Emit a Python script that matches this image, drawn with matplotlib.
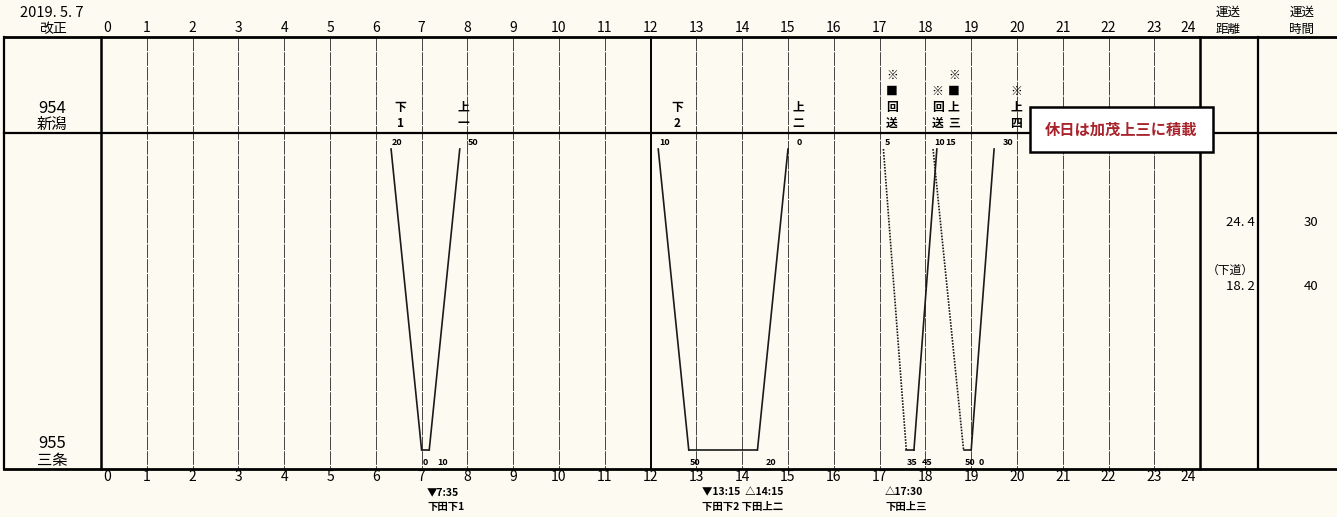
import matplotlib
matplotlib.use("Agg")
import matplotlib.pyplot as plt
from matplotlib.patches import Rectangle

JP = ["Noto Sans CJK JP", "DejaVu Sans"]
NUM = ["Liberation Sans Narrow", "Noto Sans CJK JP", "DejaVu Sans"]
plt.rcParams["font.family"] = JP

# --- values ---
revision = "2019. 5. 7"
hours = list(range(25))

station_codes = ["954", "955"]
station_names = ["新潟", "三条"]
station_km = [0.0, 24.4]

# 新潟 -> 三条
down_names = ["下1", "下2", "回送", "回送"]
down_marks = ["", "", "※■", "※"]
down_dep = ["6:20", "12:10", "17:05", "18:10"]
down_arr = ["7:00", "12:50", "17:35", "18:50"]

# 三条 -> 新潟
up_names = ["上一", "上二", "上三", "上四"]
up_marks = ["", "", "※■", "※"]
up_dep = ["7:10", "14:20", "17:45", "19:00"]
up_arr = ["7:50", "15:00", "18:15", "19:30"]

dist_notes = ["", "（下道）"]
distances = ["24. 4", "18. 2"]
run_minutes = ["30", "40"]

note_hours = [7, 13, 17]
note_times = ["▼7:35", "▼13:15  △14:15", "△17:30"]
note_trains = ["下田下1", "下田下2 下田上二", "下田上三"]

holiday_note = "休日は加茂上三に積載"

# --- layout (pixel rows/cols of the sheet) ---
W, H = 1337, 517
X0, PXH = 101, 45.8
STATION_PX = [133, 450]
KM_PX = (STATION_PX[1] - STATION_PX[0]) / (station_km[1] - station_km[0])
down_label_dx = [0.2, 0.41, 0.19, 0.1]
up_label_dx = [0.07, 0.22, 0.37, 0.48]


def hx(px):
    return (px - X0) / PXH


def ky(py):
    return (py - STATION_PX[0]) / KM_PX + station_km[0]


def hrs(s):
    h, m = s.split(":")
    return int(h) + int(m) / 60


def mins(s):
    return str(int(s.split(":")[1]))


fig = plt.figure(figsize=(W / 100, H / 100), dpi=100)
fig.patch.set_facecolor("#fcfaf1")
ax = fig.add_axes([0, 0, 1, 1])
ax.set_facecolor("#fcfaf1")
ax.axis("off")
ax.set_xlim(hx(0), hx(W))
ax.set_ylim(ky(H), ky(0))

y_top, y_bot = ky(37), ky(469)

# hour grid
for h in hours:
    if h in (0, 24):
        ax.plot([h, h], [y_top, y_bot], color="black", lw=1.8, zorder=2)
    elif h == 12:
        ax.plot([h, h], [y_top, y_bot], color="black", lw=1.4, zorder=2)
    else:
        ax.plot([h, h], [y_top, y_bot], color="#444444", lw=0.7,
                ls=(0, (14, 1.2)), zorder=1)
    for yy in (ky(28), ky(477)):
        if h == 0:
            ax.text(h + 0.05, yy, str(h), ha="left", va="center", fontsize=10, family=NUM)
        elif h == 24:
            ax.text(h - 0.1, yy, str(h), ha="right", va="center", fontsize=10, family=NUM)
        else:
            ax.text(h, yy, str(h), ha="center", va="center", fontsize=10, family=NUM)

# frame
for yy, lw in ((y_top, 2.0), (station_km[0], 1.6), (y_bot, 2.0)):
    ax.plot([hx(4), hx(W)], [yy, yy], color="black", lw=lw, zorder=2)
for xx in (hx(4), hx(1258)):
    ax.plot([xx, xx], [y_top, y_bot], color="black", lw=1.6, zorder=2)

# header / stations
ax.text(hx(52), ky(13), revision, ha="center", va="center", fontsize=10.5, family=NUM)
ax.text(hx(53), ky(29), "改正", ha="center", va="center", fontsize=10)
ax.text(hx(52), ky(108), station_codes[0], ha="center", va="center", fontsize=12, family=NUM)
ax.text(hx(52), ky(124), station_names[0], ha="center", va="center", fontsize=11)
ax.text(hx(52), ky(443), station_codes[1], ha="center", va="center", fontsize=12, family=NUM)
ax.text(hx(52), ky(460), station_names[1], ha="center", va="center", fontsize=11)
ax.text(hx(1228), ky(12), "運送", ha="center", va="center", fontsize=9)
ax.text(hx(1228), ky(29), "距離", ha="center", va="center", fontsize=9)
ax.text(hx(1302), ky(12), "運送", ha="center", va="center", fontsize=9)
ax.text(hx(1302), ky(29), "時間", ha="center", va="center", fontsize=9)

for i, (note, d, m) in enumerate(zip(dist_notes, distances, run_minutes)):
    yy = ky(222 + 64 * i)
    ax.text(hx(1255), yy, d, ha="right", va="center", fontsize=9.5, family=NUM)
    ax.text(hx(1311), yy, m, ha="center", va="center", fontsize=9.5, family=NUM)
    if note:
        ax.text(hx(1230), yy - ky(149), note, ha="center", va="center", fontsize=8.5)

line_start = ky(149)
sanjo = station_km[1]
dot = (0, (1, 0.8))
ink = "#1a1a1a"


def stack(x, chars):
    for j, ch in enumerate(reversed(chars)):
        ax.text(x, ky(123 - 16 * j), ch, ha="center", va="center",
                fontsize=8.5, fontweight="bold", zorder=4)


# runs
for i, name in enumerate(down_names):
    t0, t1 = hrs(down_dep[i]), hrs(down_arr[i])
    ls = dot if name == "回送" else "-"
    ax.plot([t0, t1], [line_start, sanjo], color=ink, lw=1.2, ls=ls, zorder=3)
    stack(t0 + down_label_dx[i], list(down_marks[i]) + list(name))
    ax.text(t0 + 0.02, ky(142), mins(down_dep[i]), ha="left", va="center",
            fontsize=6.5, fontweight="bold", family=NUM)
    ax.text(t1 + 0.02, ky(462), mins(down_arr[i]), ha="left", va="center",
            fontsize=6.5, fontweight="bold", family=NUM)

for i, name in enumerate(up_names):
    t0, t1 = hrs(up_dep[i]), hrs(up_arr[i])
    ax.plot([t0, t1], [sanjo, line_start], color=ink, lw=1.2, zorder=3)
    # layover at 三条
    ax.plot([hrs(down_arr[i]), t0], [sanjo, sanjo], color=ink, lw=1.2, zorder=3)
    stack(t1 + up_label_dx[i], list(up_marks[i]) + list(name))
    ax.text(t1 + 0.18, ky(142), mins(up_arr[i]), ha="left", va="center",
            fontsize=6.5, fontweight="bold", family=NUM)
    ax.text(t0 + 0.17, ky(462), mins(up_dep[i]), ha="left", va="center",
            fontsize=6.5, fontweight="bold", family=NUM)

# notes below the axis
for h, t, tr in zip(note_hours, note_times, note_trains):
    ax.text(h + 0.12, ky(492), t, ha="left", va="center", fontsize=7.5, fontweight="bold")
    ax.text(h + 0.12, ky(507), tr, ha="left", va="center", fontsize=7.5, fontweight="bold")

# holiday box
bx0, bx1, by0, by1 = hx(1030), hx(1213), ky(107), ky(152)
ax.add_patch(Rectangle((bx0, by0), bx1 - bx0, by1 - by0, facecolor="white",
                       edgecolor="black", lw=1.8, zorder=5))
ax.text((bx0 + bx1) / 2, (by0 + by1) / 2, holiday_note, ha="center", va="center",
        fontsize=11, fontweight="bold", color="#a8232b", zorder=6)

fig.savefig("out.png", dpi=100, facecolor=fig.get_facecolor())
